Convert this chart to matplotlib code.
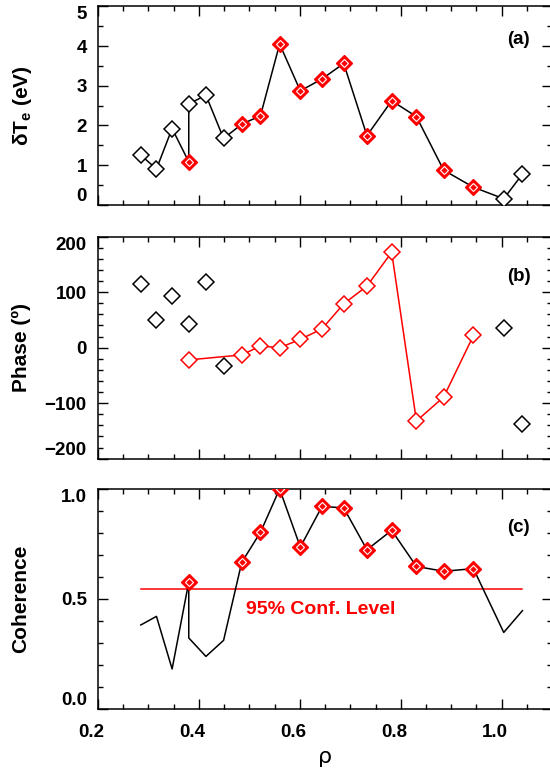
import numpy as np
import matplotlib.pyplot as plt
from matplotlib.ticker import MultipleLocator
from matplotlib.transforms import ScaledTranslation

plt.rcParams['font.family'] = ['Liberation Sans', 'DejaVu Sans']
plt.rcParams['font.weight'] = 'bold'
plt.rcParams['mathtext.default'] = 'regular'

# radial positions (rho) of the 20 channels
rho = [0.285, 0.316, 0.347, 0.380, 0.380, 0.414, 0.449, 0.485, 0.522, 0.560,
       0.601, 0.644, 0.687, 0.733, 0.782, 0.831, 0.885, 0.944, 1.004, 1.041]
# True -> above confidence level (red)
sig = [False, False, False, True, False, False, False, True, True, True,
       True, True, True, True, True, True, True, True, False, False]

dTe = [1.25, 0.90, 1.92, 1.08, 2.54, 2.76, 1.67, 2.03, 2.24, 4.05,
       2.87, 3.17, 3.56, 1.74, 2.62, 2.22, 0.87, 0.44, 0.15, 0.77]
phase = [115, 50, 94, -22, 42, 119, -33, -13, 3, 0,
         15, 34, 79, 111, 172, -132, -89, 22, 35, -138]
coher = [0.382, 0.421, 0.182, 0.577, 0.323, 0.239, 0.312, 0.667, 0.803, 1.0,
         0.736, 0.921, 0.914, 0.724, 0.812, 0.648, 0.626, 0.638, 0.348, 0.447]
conf_level = 0.545

rho = np.array(rho)
sig = np.array(sig)
dTe = np.array(dTe)
phase = np.array(phase)
coher = np.array(coher)

fig = plt.figure(figsize=(5.5, 7.73), dpi=100)
left, width = 0.178, 0.826
ax1 = fig.add_axes([left, 0.7352, width, 0.2566])
ax2 = fig.add_axes([left, 0.4066, width, 0.2872])
ax3 = fig.add_axes([left, 0.0828, width, 0.2846])

red = '#ff0000'
tfs = 13.5


def red_markers(ax, x, y):
    ax.plot(x, y, 'D', ms=8, mfc=red, mec=red, mew=1.0, zorder=4)
    ax.plot(x, y, 'D', ms=3.8, mfc=red, mec='white', mew=0.8, zorder=5)


def style(ax, ymaj, ymin):
    ax.set_xlim(0.2, 1.1)
    ax.xaxis.set_major_locator(MultipleLocator(0.2))
    ax.xaxis.set_minor_locator(MultipleLocator(0.05))
    ax.yaxis.set_major_locator(MultipleLocator(ymaj))
    ax.yaxis.set_minor_locator(MultipleLocator(ymin))
    ax.tick_params(which='both', direction='in', top=True, right=True, width=1.0)
    ax.tick_params(which='major', length=7)
    ax.tick_params(which='minor', length=3.5)
    ax.tick_params(axis='y', pad=8, labelsize=tfs)
    ax.tick_params(axis='x', pad=11, labelsize=tfs)
    for s in ax.spines.values():
        s.set_linewidth(1.1)


# (a) amplitude
ax1.plot(rho, dTe, color='black', lw=1.1, zorder=2)
ax1.plot(rho[~sig], dTe[~sig], 'D', ms=8, mfc='white', mec='black', mew=1.1, zorder=3)
red_markers(ax1, rho[sig], dTe[sig])
ax1.set_ylim(0, 5)
style(ax1, 1, 0.5)
ax1.set_xticklabels([])
ax1.set_ylabel(r'$\delta$T$_{e}$ (eV)', fontsize=15, fontweight='bold', va='center')
ax1.yaxis.set_label_coords(-0.167, 0.5)
ax1.text(0.926, 0.835, '(a)', transform=ax1.transAxes, ha='center', va='center',
         fontsize=13.5, fontweight='bold')

# (b) phase
ax2.plot(rho[sig], phase[sig], color=red, lw=1.1, zorder=2)
ax2.plot(rho[~sig], phase[~sig], 'D', ms=8, mfc='white', mec='black', mew=1.1, zorder=3)
ax2.plot(rho[sig], phase[sig], 'D', ms=8, mfc='white', mec=red, mew=1.1, zorder=3)
ax2.set_ylim(-200, 200)
style(ax2, 100, 20)
ax2.set_xticklabels([])
ax2.set_ylabel('Phase (\u00ba)', fontsize=15, fontweight='bold', va='center')
ax2.yaxis.set_label_coords(-0.169, 0.5)
ax2.text(0.926, 0.82, '(b)', transform=ax2.transAxes, ha='center', va='center',
         fontsize=13.5, fontweight='bold')

# (c) coherence
ax3.plot(rho, coher, color='black', lw=1.1, zorder=2)
red_markers(ax3, rho[sig], coher[sig])
ax3.plot([rho[0], rho[-1]], [conf_level, conf_level], color=red, lw=1.1, zorder=1)
ax3.text(0.642, 0.4545, '95% Conf. Level', color=red, ha='center', va='center',
         fontsize=14, fontweight='bold')
ax3.set_ylim(0, 1)
style(ax3, 0.5, 0.1)
ax3.set_ylabel('Coherence', fontsize=15, fontweight='bold', va='center')
ax3.yaxis.set_label_coords(-0.171, 0.5)
ax3.set_xlabel('\u03c1', fontsize=16, fontweight='normal', family=['DejaVu Sans'])
ax3.text(0.926, 0.827, '(c)', transform=ax3.transAxes, ha='center', va='center',
         fontsize=13.5, fontweight='bold')

# IDL-like placement: end labels pulled inside, x labels nudged left
fig.canvas.draw()
shift = ScaledTranslation(-5 / 72, 0, fig.dpi_scale_trans)
for ax in (ax1, ax2, ax3):
    lo, hi = ax.get_ylim()
    for t in ax.yaxis.get_major_ticks():
        if np.isclose(t.get_loc(), hi):
            t.label1.set_va('top')
        elif np.isclose(t.get_loc(), lo):
            t.label1.set_va('bottom')
for t in ax3.xaxis.get_major_ticks():
    t.label1.set_transform(t.label1.get_transform() + shift)

fig.savefig('out.png', dpi=100)
